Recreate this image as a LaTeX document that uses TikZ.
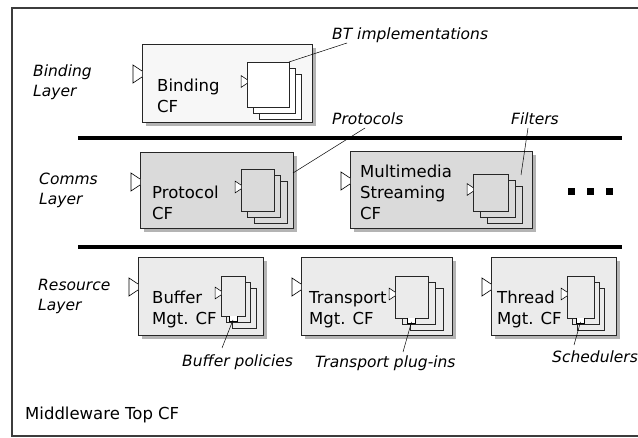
\documentclass[tikz,border=0pt]{standalone}
\usepackage{fontspec}
\setmainfont{DejaVu Sans}
\usepackage{tikz}
\usetikzlibrary{shadows,calc}
\definecolor{bindfill}{HTML}{F7F7F7}
\definecolor{commsfill}{HTML}{DADADA}
\definecolor{resfill}{HTML}{EBEBEB}
\definecolor{shadowgray}{HTML}{B4B4B4}
\definecolor{framegray}{HTML}{3C3C3C}

\tikzset{
    recept/.pic={\draw[fill=white, line width=0.6pt] (0,-3) -- (-9,-9) -- (-9,9) -- (0,3);},
    plug/.pic={\draw[fill=white, line width=0.6pt] (-4,0) -- (-4,5) -- (4,5) -- (4,0);}
}

\begin{document}
\begin{tikzpicture}[
    x=1pt, y=-1pt,
    frame/.style={draw=framegray, line width=1.2pt, fill=white, general shadow={fill=shadowgray, shadow xshift=1.5pt, shadow yshift=-1.5pt}},
    cfbox/.style={draw=black!85, line width=0.8pt, inner sep=0pt, outer sep=0pt, general shadow={fill=shadowgray, shadow xshift=4pt, shadow yshift=-4pt}},
    card/.style={draw=black!85, line width=0.8pt, inner sep=0pt, outer sep=0pt},
    cftext/.style={font=\fontsize{16.5}{21}\selectfont, align=left, inner sep=0pt},
    layertext/.style={font=\fontsize{15.5}{20.5}\selectfont\itshape, align=left, inner sep=0pt},
    note/.style={font=\fontsize{15.5}{19}\selectfont\itshape, inner sep=0pt},
    leader/.style={line width=0.5pt},
    layerline/.style={line width=3.5pt}
]
    \useasboundingbox (0,0) rectangle (638,438);
    \draw[frame] (12,8) rectangle (660,436);

    % layer separators
    \draw[layerline] (78,138) -- (622,138);
    \draw[layerline] (78,247) -- (622,247);

    % component frameworks
    \node[cfbox, fill=bindfill, minimum width=170pt, minimum height=78pt] (bindcf) at (227,83) {};
    \node[cfbox, fill=commsfill, minimum width=153pt, minimum height=76pt] (protcf) at (216.5,190) {};
    \node[cfbox, fill=commsfill, minimum width=182pt, minimum height=77pt] (mmcf) at (441,189.5) {};
    \node[cfbox, fill=resfill, minimum width=125pt, minimum height=78pt] (bufcf) at (200.5,296) {};
    \node[cfbox, fill=resfill, minimum width=151pt, minimum height=78pt] (transcf) at (376.5,296) {};
    \node[cfbox, fill=resfill, minimum width=125pt, minimum height=78pt] (thrcf) at (553.5,296) {};

    \foreach \cf in {bindcf,protcf,mmcf,bufcf,transcf,thrcf}
        \pic at ([yshift=-30pt]\cf.north west) {recept};

    % plug-in stacks
    \foreach \k in {2,1,0}
        \node[card, fill=white, minimum width=42pt, minimum height=45pt] (bt-\k) at (268+6*\k,84.5+6*\k) {};
    \foreach \k in {2,1,0}
        \node[card, fill=commsfill, minimum width=33pt, minimum height=42pt] (pr-\k) at (257.5+6.5*\k,190+6*\k) {};
    \foreach \k in {2,1,0}
        \node[card, fill=commsfill, minimum width=35pt, minimum height=37pt] (mm-\k) at (490.5+7*\k,192.5+6*\k) {};
    \foreach \k in {2,1,0}
        \node[card, fill=resfill, minimum width=24pt, minimum height=40pt] (buf-\k) at (233+5.5*\k,296+6*\k) {};
    \foreach \k in {2,1,0}
        \node[card, fill=resfill, minimum width=33pt, minimum height=42pt] (tr-\k) at (411.5+7.5*\k,297+6*\k) {};
    \foreach \k in {2,1,0}
        \node[card, fill=resfill, minimum width=27pt, minimum height=42pt] (th-\k) at (580.5+5*\k,297+6*\k) {};

    \foreach \c in {bt,pr,mm,buf,tr,th}
        \pic[scale=0.65] at ([yshift=3pt]\c-0.west) {recept};
    \foreach \c in {buf,tr,th}
        \pic at (\c-0.south) {plug};

    % texts (base = last line)
    \node[cftext, anchor=base west] (bindtxt) at (157,113) {Binding\\CF};
    \node[cftext, anchor=base west] (prottxt) at (152,220) {Protocol\\CF};
    \node[cftext, anchor=base west] (mmtxt) at (360,220) {Multimedia\\Streaming\\CF};
    \node[cftext, anchor=base west] (buftxt) at (152,325) {Buffer\\Mgt. CF};
    \node[cftext, anchor=base west] (transtxt) at (309,325) {Transport\\Mgt. CF};
    \node[cftext, anchor=base west] (thrtxt) at (497,325) {Thread\\Mgt. CF};
    \node[cftext, anchor=base west] (toptxt) at (25,420) {Middleware Top CF};

    \node[layertext, anchor=base west] (bindlayer) at (33,97) {Binding\\Layer};
    \node[layertext, anchor=base west] (commslayer) at (39,205) {Comms\\Layer};
    \node[layertext, anchor=base west] (reslayer) at (38,311) {Resource\\Layer};

    \node[note, anchor=base west] (btnote) at (332,40) {BT implementations};
    \node[note, anchor=base west] (protnote) at (332,125) {Protocols};
    \node[note, anchor=base west] (filtnote) at (511,125) {Filters};
    \node[note, anchor=base west] (bufnote) at (182,367) {Buffer policies};
    \node[note, anchor=base west] (transnote) at (315,368) {Transport plug-ins};
    \node[note, anchor=base west] (schednote) at (552,363) {Schedulers};

    % more frameworks
    \foreach \x in {571,590,609}
        \fill (\x-3.5,188.5) rectangle +(7,7);

    % leaders
    \draw[leader] ([xshift=15pt,yshift=-3pt]btnote.base west) -- (bt-0.north east);
    \draw[leader] ([xshift=33pt,yshift=-3pt]protnote.base west) -- ([yshift=17pt]protcf.east);
    \draw[leader] ([xshift=17pt,yshift=-3pt]filtnote.base west) -- ([shift={(-1pt,11pt)}]mm-2.north east);
    \draw[leader] ([xshift=40pt,yshift=19pt]bufnote.base west) -- ([yshift=-4pt]buf-0.south);
    \draw[leader] ([xshift=88pt,yshift=16pt]transnote.base west) -- ([yshift=-4pt]tr-0.south);
    \draw[leader] ([xshift=22pt,yshift=18pt]schednote.base west) -- ([yshift=-4pt]th-0.south);
\end{tikzpicture}
\end{document}
